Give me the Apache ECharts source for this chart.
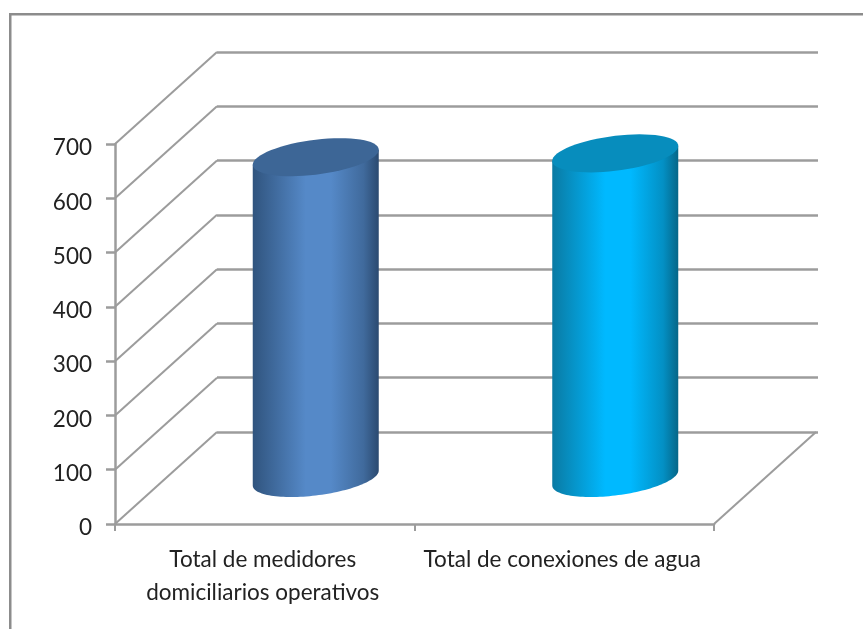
<!DOCTYPE html>
<html><head><meta charset="utf-8">
<style>html,body{margin:0;padding:0;background:#fff}#c{width:863px;height:629px}</style>
<script src="https://cdn.jsdelivr.net/npm/echarts@6/dist/echarts.min.js"></script>
</head><body><div id="c"></div>
<script>
const categories = ['Total de medidores\ndomiciliarios operativos', 'Total de conexiones de agua'];
const values = [591, 598];
const yTicks = [0, 100, 200, 300, 400, 500, 600, 700];
const gridColor = '#9c9c9c';
const depth = [102, -92];
const font = 'Lato';
const palettes = [
  { edgeL: '#30547e', mid: '#5589c8', edgeR: '#2b4a70', cap: '#3d6696' },
  { edgeL: '#0a7aa3', mid: '#00b9ff', edgeR: '#056688', cap: '#078dbd' }
];
const rx = 63, ry = 17.5, skew = 7.5;

function capPoints(cx, cy, from, to) {
  const pts = [];
  const n = 64;
  for (let i = 0; i <= n; i++) {
    const t = from + (to - from) * i / n;
    pts.push([cx + rx * Math.cos(t), cy + ry * Math.sin(t) - skew * Math.cos(t)]);
  }
  return pts;
}

function renderCylinder(params, api) {
  const i = api.value(0);
  const base = api.coord([i, 0]);
  const top = api.coord([i, api.value(1)]);
  const dx = depth[0] / 2, dy = depth[1] / 2;
  const bx = base[0] + dx, by = base[1] + dy;
  const tx = top[0] + dx, ty = top[1] + dy;
  const p = palettes[i];
  const lower = capPoints(bx, by, Math.PI, 0);
  const body = lower.concat([[tx + rx, ty - skew]], [[tx - rx, ty + skew]]);
  return {
    type: 'group',
    children: [
      {
        type: 'polygon',
        shape: { points: body },
        style: {
          fill: new echarts.graphic.LinearGradient(0, 0, 1, 0, [
            { offset: 0, color: p.edgeL },
            { offset: 0.42, color: p.mid },
            { offset: 0.62, color: p.mid },
            { offset: 0.88, color: echarts.color.lerp(0.5, [p.mid, p.edgeR]) },
            { offset: 1, color: p.edgeR }
          ])
        }
      },
      {
        type: 'polygon',
        shape: { points: capPoints(tx, ty, 0, Math.PI * 2) },
        style: { fill: p.cap }
      }
    ]
  };
}

function renderDiagonal(params, api) {
  const v = api.value(0);
  const left = params.coordSys.x;
  const right = left + params.coordSys.width;
  const y = api.coord([0, v])[1];
  const lines = [[left, y]];
  if (v === 0) lines.push([right, y]);
  return {
    type: 'group',
    children: lines.map(s => ({
      type: 'line',
      shape: { x1: s[0], y1: s[1], x2: s[0] + depth[0], y2: s[1] + depth[1] },
      style: { stroke: gridColor, lineWidth: 2 }
    }))
  };
}

const chart = echarts.init(document.getElementById('c'), null, { renderer: 'canvas' });
chart.setOption({
  animation: false,
  backgroundColor: '#fff',
  graphic: [{
    type: 'rect', left: 9, top: 13, silent: true,
    shape: { x: 0, y: 0, width: 900, height: 700 },
    style: { fill: 'transparent', stroke: '#8c8c8c', lineWidth: 2.5 }
  }],
  grid: [
    { left: 115, top: 144, width: 599, height: 380 },
    { left: 217, top: 52, width: 601, height: 380 }
  ],
  xAxis: [
    {
      type: 'category', gridIndex: 0, data: categories,
      axisLine: { lineStyle: { color: gridColor, width: 2.5 } },
      axisTick: { show: true, length: 7, lineStyle: { color: gridColor, width: 2 } },
      axisLabel: { color: '#222', fontFamily: font, fontSize: 22.5, lineHeight: 33, margin: 19, interval: 0, padding: [0, 4, 0, 0] }
    },
    { type: 'category', gridIndex: 1, data: categories, show: false }
  ],
  yAxis: [
    {
      type: 'value', gridIndex: 0, min: 0, max: 700, interval: 100,
      axisLine: { show: true, lineStyle: { color: gridColor, width: 2.5 } },
      axisTick: { show: true, length: 9, lineStyle: { color: gridColor, width: 2.5 } },
      axisLabel: { color: '#222', fontFamily: font, fontSize: 22.5, margin: 23, verticalAlign: 'top', lineHeight: 8 },
      splitLine: { show: false }
    },
    {
      type: 'value', gridIndex: 1, min: 0, max: 700, interval: 100,
      axisLine: { show: false }, axisTick: { show: false }, axisLabel: { show: false },
      splitLine: { show: true, lineStyle: { color: gridColor, width: 2.5 } }
    }
  ],
  series: [
    {
      type: 'custom', xAxisIndex: 0, yAxisIndex: 0, z: 2, silent: true,
      data: yTicks.map(v => [v]), encode: { y: 0 },
      renderItem: renderDiagonal
    },
    {
      type: 'custom', xAxisIndex: 0, yAxisIndex: 0, z: 3,
      data: values.map((v, i) => [i, v]), encode: { x: 0, y: 1 },
      renderItem: renderCylinder
    }
  ]
});
</script></body></html>
